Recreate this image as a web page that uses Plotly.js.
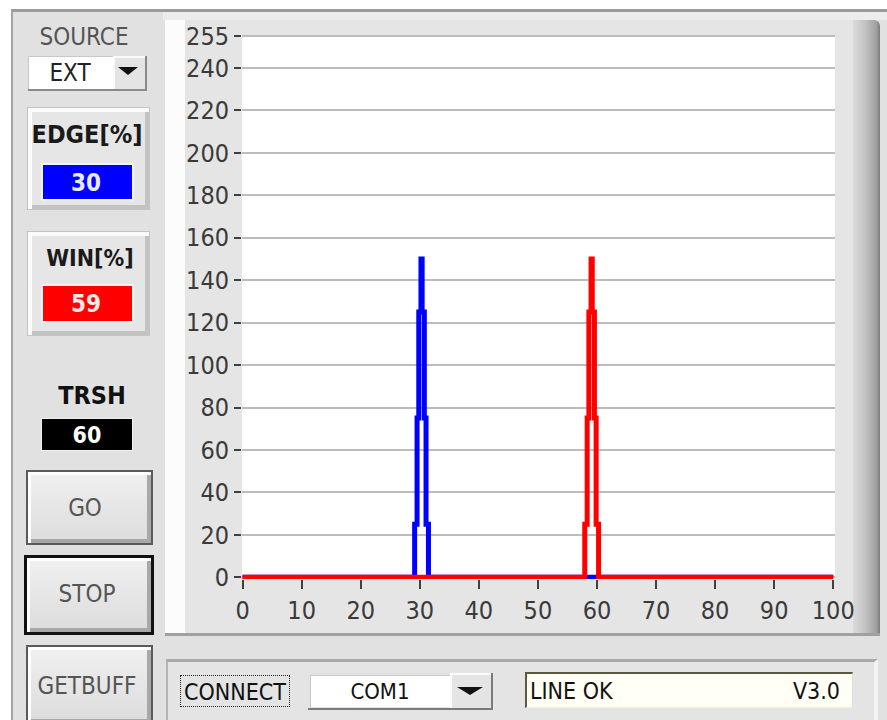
<!DOCTYPE html>
<html><head><meta charset="utf-8">
<script src="https://cdn.plot.ly/plotly-3.0.1.min.js"></script>
<style>
html,body{margin:0;padding:0;background:#ffffff;}
body{width:887px;height:720px;position:relative;overflow:hidden;font-family:"DejaVu Sans Condensed","DejaVu Sans",sans-serif;}
.a{position:absolute;box-sizing:border-box;z-index:0;}
.c{position:absolute;box-sizing:border-box;z-index:2;}
.t{position:absolute;white-space:nowrap;transform:translate(-50%,-50%);line-height:1;z-index:3;}
#chart{position:absolute;left:0;top:0;width:887px;height:720px;z-index:1;}
</style></head><body>
<!-- window background -->
<div class="a" style="left:11px;top:9px;width:876px;height:711px;background:#e1e1e1;border-top:3px solid #9c9c9c;border-left:2px solid #a4a4a4;"></div>
<!-- chart panel -->
<div class="a" style="left:163px;top:12px;width:724px;height:8px;background:#ececec"></div>
<div class="a" style="left:165px;top:20px;width:20px;height:614px;background:#fcfcfc"></div>
<div class="a" style="left:185px;top:20px;width:668px;height:614px;background:#e5e5e5"></div>
<div class="a" style="left:853px;top:20px;width:27px;height:614px;background:linear-gradient(to right,#dadada,#c6c6c6 40%,#a2a2a2 85%,#7c7c7c);border-top-right-radius:6px"></div>
<div class="a" style="left:165px;top:633px;width:715px;height:3px;background:#a0a0a0"></div>
<!-- bottom panel -->
<div class="a" style="left:166px;top:659px;width:712px;height:61px;background:#e4e4e4;border-top:3px solid #a8a8a8;border-left:2px solid #b4b4b4;border-right:4px solid #f4f4f4;"></div>

<!-- left controls -->
<div class="t" style="left:84px;top:37px;font-size:24px;color:#555;">SOURCE</div>
<div class="c" style="left:28px;top:56px;width:119px;height:35px;background:#e2e2e2;border-bottom:2px solid #8a8a8a;border-right:2px solid #8a8a8a;"></div>
<div class="c" style="left:28px;top:56px;width:85px;height:33px;background:#ffffff;border-top:1px solid #c8c8c8;border-left:1px solid #c8c8c8;"></div>
<div class="c" style="left:113px;top:56px;width:32px;height:33px;background:#e4e4e4;border-top:2px solid #fafafa;border-left:2px solid #fafafa;"></div>
<div class="c" style="left:118px;top:67px;width:0;height:0;border-left:10px solid transparent;border-right:10px solid transparent;border-top:8px solid #111;"></div>
<div class="t" style="left:70px;top:73px;font-size:24px;color:#222;">EXT</div>

<div class="c" style="left:27px;top:107px;width:123px;height:103px;background:#e6e6e6;border:1px solid #c4c4c4;box-shadow:inset 4px 4px 0 #fafafa, inset -4px -4px 0 #c2c2c2;"></div>
<div class="t" style="left:87px;top:134px;font-size:25px;font-weight:bold;color:#1a1a1a;">EDGE[%]</div>
<div class="c" style="left:41px;top:163px;width:93px;height:38px;background:#0000ff;border:2px solid #f2f2f2;"></div>
<div class="t" style="left:86px;top:183px;font-size:24px;font-weight:bold;color:#e8e8ff;">30</div>

<div class="c" style="left:27px;top:231px;width:123px;height:105px;background:#e6e6e6;border:1px solid #c4c4c4;box-shadow:inset 4px 4px 0 #fafafa, inset -4px -4px 0 #c2c2c2;"></div>
<div class="t" style="left:90px;top:258px;font-size:23px;font-weight:bold;color:#1a1a1a;">WIN[%]</div>
<div class="c" style="left:41px;top:284px;width:93px;height:39px;background:#ff0000;border:2px solid #f2f2f2;"></div>
<div class="t" style="left:86px;top:304px;font-size:24px;font-weight:bold;color:#ffe8e8;">59</div>

<div class="t" style="left:92px;top:395px;font-size:25px;font-weight:bold;color:#111;">TRSH</div>
<div class="c" style="left:41px;top:418px;width:92px;height:33px;background:#000000;border:1px solid #f0f0f0;"></div>
<div class="t" style="left:87px;top:435px;font-size:23px;font-weight:bold;color:#ffffff;">60</div>

<div class="c" style="left:26px;top:470px;width:127px;height:75px;border:2px solid #5a5a5a;background:linear-gradient(#f0f0f0,#dcdcdc);box-shadow:inset 3px 3px 0 #ffffff, inset -4px -4px 0 #a8a8a8;"></div>
<div class="t" style="left:85px;top:508px;font-size:24px;color:#555;">GO</div>
<div class="c" style="left:24px;top:555px;width:130px;height:80px;border:3px solid #111;background:linear-gradient(#f0f0f0,#dcdcdc);box-shadow:inset 3px 3px 0 #ffffff, inset -4px -4px 0 #a8a8a8;"></div>
<div class="t" style="left:87px;top:594px;font-size:24px;color:#555;">STOP</div>
<div class="c" style="left:26px;top:645px;width:127px;height:80px;border:2px solid #5a5a5a;background:linear-gradient(#f0f0f0,#dcdcdc);box-shadow:inset 3px 3px 0 #ffffff, inset -4px -4px 0 #a8a8a8;"></div>
<div class="t" style="left:87px;top:686px;font-size:24px;color:#555;">GETBUFF</div>

<!-- bottom controls -->
<div class="c" style="left:180px;top:675px;width:110px;height:32px;border:1px dotted #222;"></div>
<div class="t" style="left:235px;top:692px;font-size:23px;color:#111;">CONNECT</div>
<div class="c" style="left:308px;top:673px;width:185px;height:37px;background:#e2e2e2;border-bottom:2px solid #7a7a7a;border-right:2px solid #7a7a7a;"></div>
<div class="c" style="left:310px;top:675px;width:140px;height:32px;background:#ffffff;border-top:1px solid #c8c8c8;border-left:1px solid #c8c8c8;"></div>
<div class="c" style="left:450px;top:673px;width:41px;height:35px;background:#e4e4e4;border-top:2px solid #fafafa;border-left:2px solid #fafafa;"></div>
<div class="c" style="left:457px;top:687px;width:0;height:0;border-left:13px solid transparent;border-right:13px solid transparent;border-top:8px solid #111;"></div>
<div class="t" style="left:380px;top:692px;font-size:22px;color:#111;">COM1</div>
<div class="c" style="left:525px;top:672px;width:328px;height:36px;background:#fffff6;border-top:2px solid #5a5a40;border-left:2px solid #5a5a40;border-bottom:1px solid #f0f0e0;border-right:1px solid #e0e0d0;"></div>
<div class="t" style="left:530px;top:691px;font-size:23px;color:#111;transform:translate(0,-50%);">LINE OK</div>
<div class="t" style="left:840px;top:691px;font-size:23px;color:#111;transform:translate(-100%,-50%);">V3.0</div>

<div id="chart"></div>
<script>
// axis ticks
const xTicks = [0, 10, 20, 30, 40, 50, 60, 70, 80, 90, 100];
const xGrid = [0, 10, 20, 30, 40, 50, 60, 70, 80, 90];
const yTicks = [0, 20, 40, 60, 80, 100, 120, 140, 160, 180, 200, 220, 240, 255];
const yTickText = ['0', '20', '40', '60', '80', '100', '120', '140', '160', '180', '200', '220', '240', '255'];
// EDGE (blue) signal
const edgeX = [0, 29.13, 29.54, 29.83, 30.20, 30.40, 30.77, 31.06, 31.47, 100];
const edgeY = [0, 25, 75, 125, 150, 125, 75, 25, 0, 0];
// WIN (red) signal
const winX = [0, 57.93, 58.34, 58.63, 59.00, 59.20, 59.57, 59.86, 60.27, 100];
const winY = [0, 25, 75, 125, 150, 125, 75, 25, 0, 0];

const tickFont = {family: 'DejaVu Sans Condensed, DejaVu Sans, sans-serif', size: 25, color: '#3a3a3a'};
const xRange = [-0.1, 100.3];

const traces = [
  {x: edgeX, y: edgeY, type: 'scatter', mode: 'lines', line: {shape: 'hv', width: 5, color: '#0000ff'}, hoverinfo: 'skip'},
  {x: winX, y: winY, type: 'scatter', mode: 'lines', line: {shape: 'hv', width: 5, color: '#ff0000'}, hoverinfo: 'skip'}
];

const layout = {
  width: 887, height: 720,
  margin: {l: 242, r: 52, t: 35, b: 141, pad: 0},
  paper_bgcolor: 'rgba(0,0,0,0)',
  plot_bgcolor: '#ffffff',
  showlegend: false,
  xaxis: {
    range: xRange, tickmode: 'array', tickvals: xTicks, ticktext: xTicks.map(String),
    ticks: 'outside', ticklen: 9, tickwidth: 2, tickcolor: '#404040',
    showgrid: false, zeroline: false, showline: false, tickfont: tickFont, fixedrange: true
  },
  xaxis2: {
    overlaying: 'x', anchor: 'y', range: xRange, tickmode: 'array', tickvals: xGrid,
    showticklabels: false, ticks: '', showgrid: true, gridcolor: '#bcbcbc', gridwidth: 2,
    zeroline: false, showline: false, fixedrange: true
  },
  yaxis: {
    range: [-0.8, 255.5], tickmode: 'array', tickvals: yTicks, ticktext: yTickText,
    ticks: 'outside', ticklen: 7, tickwidth: 2, tickcolor: '#404040',
    showgrid: true, gridcolor: '#bcbcbc', gridwidth: 2,
    zeroline: false, showline: false, tickfont: tickFont, fixedrange: true
  }
};

Plotly.newPlot('chart', traces, layout, {displayModeBar: false, staticPlot: true});
</script>
</body></html>
